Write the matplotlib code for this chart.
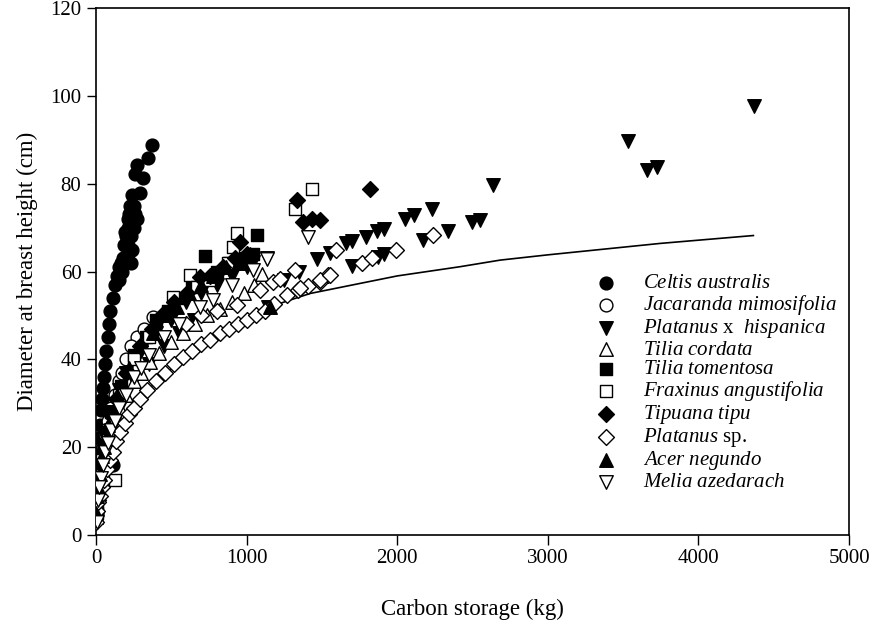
import numpy as np
import matplotlib
matplotlib.use("Agg")
import matplotlib.pyplot as plt

plt.rcParams['font.family'] = ['Liberation Serif', 'DejaVu Serif']
plt.rcParams['mathtext.fontset'] = 'custom'
plt.rcParams['mathtext.it'] = 'Liberation Serif:italic'
plt.rcParams['mathtext.rm'] = 'Liberation Serif'

# fitted curve (hidden part estimated along the lowest band)
curve_x = [60, 100, 200, 400, 700, 1000, 1200, 1421, 2000, 2417, 2683, 3000, 3745, 4365]
curve_y = [15.0, 19.5, 27.5, 35.0, 43.5, 49.5, 52.5, 55.0, 59.0, 61.1, 62.6, 63.8, 66.4, 68.2]

celtis_x = [1, 3, 6, 9, 13, 17, 22, 27, 33, 40, 47, 54, 60, 68, 77, 86, 96, 110, 125, 140,
            155, 166, 180, 200, 232, 185, 210, 195, 225, 212, 245, 272, 225, 255, 237, 259,
            270, 292, 314, 346, 370, 115, 150, 170, 190, 210, 240, 200, 235, 215, 250,
            230, 260, 240, 220]
celtis_y = [4, 7, 10, 13, 16, 19, 22, 25, 28.5, 31, 33.5, 36, 39, 42, 45, 48, 51, 54, 57, 59,
            61, 62, 63, 63, 62, 66, 66, 69, 69, 72, 72, 72, 75, 75, 77.4, 82.3,
            84.2, 77.8, 81.2, 85.8, 88.8, 16, 58, 60, 62, 64, 65, 68, 68, 70, 70,
            73, 73, 75, 73]

jacaranda_x = [5, 15, 30, 60, 100, 150, 200, 270, 378, 45, 80, 125, 175, 235, 320]
jacaranda_y = [5, 10, 16, 23, 29, 35, 40, 45, 49.7, 20, 26, 32, 37, 43, 47]

hispanica_x = [5, 15, 30, 60, 100, 150, 200, 300, 400, 500, 600, 700, 800, 900, 1000, 1044,
               1144, 1250, 1350, 1465, 1554, 1660, 1698, 1702, 1791, 1868, 1875, 1912, 1915,
               2052, 2112, 2173, 2229, 2340, 2495, 2550, 2636, 3533, 3659, 3725, 4369,
               10, 22, 45, 80, 125, 175, 250, 350, 450, 550, 650]
hispanica_y = [6, 11, 16, 22, 28, 33, 37, 42, 46, 49, 53, 55, 57, 59, 61, 62.2,
               52, 58, 60, 62.8, 64.3, 66.4, 66.9, 61.2, 67.9, 69.3, 63.4, 63.9, 69.8,
               71.9, 72.9, 67.2, 74.2, 69.3, 71.3, 71.7, 79.7, 89.7, 83.1, 83.8, 97.7,
               7, 11, 16, 21, 26, 30, 35, 39, 43, 46, 49]

cordata_x = [3, 8, 15, 25, 40, 60, 80, 100, 130, 160, 200, 250, 300, 360, 420, 500, 580,
             660, 740, 820, 900, 980, 1050, 1100]
cordata_y = [4, 7, 10, 13, 16, 19, 22, 24, 27, 29, 32, 35, 37, 39.5, 41.5, 44, 46,
             48, 50, 51.5, 53, 55, 57, 59.5]

tomentosa_x = [5, 20, 50, 100, 165, 250, 330, 400, 480, 560, 640, 724, 800, 880, 960, 1040, 1071]
tomentosa_y = [6, 12, 20, 28, 34, 41, 45, 49, 51, 54, 57, 63.5, 60, 62, 63, 64, 68.3]

fraxinus_x = [5, 15, 40, 80, 126, 150, 250, 350, 513, 624, 668, 750, 879, 912, 934, 1321, 1436]
fraxinus_y = [5, 10, 17, 24, 12.5, 32, 40, 45, 54.3, 59.2, 56.5, 58, 61.9, 65.6, 68.7, 74.2, 78.9]

tipuana_x = [10, 35, 75, 130, 200, 290, 370, 440, 520, 602, 690, 760, 840, 920, 956, 1000,
             1333, 1377, 1432, 1487, 1819]
tipuana_y = [8, 16, 24, 31, 37, 43, 47, 50, 53, 55, 58.8, 59, 61, 63, 66.8, 64,
             76.3, 71.3, 71.9, 71.7, 78.8]

platsp_x = [2, 6, 15, 25, 40, 55, 75, 95, 115, 135, 160, 190, 220, 250, 290, 340, 400, 460,
            520, 580, 640, 700, 760, 820, 880, 940, 1000, 1060, 1120, 1180, 1266, 1343,
            1410, 1487, 1543, 600, 700, 800, 934, 1089, 1177, 1222, 1321, 1355, 1487, 1554,
            1594, 1764, 1830, 1992, 2240]
platsp_y = [3, 5.5, 7.5, 9, 11, 12.5, 15, 17, 19, 21.5, 23.5, 25.5, 27.5, 29, 31, 33, 35, 37,
            39, 40.5, 42, 43.5, 44.5, 46, 47, 48, 49, 50, 51, 52.5, 54.6, 55.8,
            56.7, 57.7, 59.2, 48, 50, 51, 52.4, 55.8, 57.7, 58.4, 60.3, 56.2, 58.1, 59.2,
            65, 62, 63, 65, 68.3]

acer_x = [3, 15, 40, 80, 140, 220, 300, 380, 460, 540, 620, 700, 780, 860, 940, 1020, 1155,
          8, 25, 55, 110]
acer_y = [5, 11, 18, 25, 32, 38, 43, 46, 50, 52, 55, 57, 59, 61, 62, 64, 52,
          9, 14, 20, 28]

melia_x = [5, 15, 30, 60, 100, 150, 250, 350, 450, 550, 690, 779, 900, 1045, 1133, 1138, 1410,
           20, 45, 80, 125, 200, 300]
melia_y = [3, 8, 13, 19, 24, 29, 36, 41, 45, 48, 52, 53.5, 57, 60.4, 63, 62.8, 67.9,
           11, 16, 21, 26, 32, 38]

fig = plt.figure(figsize=(8.77, 6.29), dpi=100)
ax = fig.add_axes([0.1095, 0.1494, 0.8586, 0.8378])

ax.plot(curve_x, curve_y, color='black', lw=1.2, zorder=1)

series = [
    (celtis_x, celtis_y, 'o', 'black', r'$\mathit{Celtis\ australis}$', 85),
    (jacaranda_x, jacaranda_y, 'o', 'white', r'$\mathit{Jacaranda\ mimosifolia}$', 85),
    (hispanica_x, hispanica_y, 'v', 'black', r'$\mathit{Platanus}$ x  $\mathit{hispanica}$', 95),
    (cordata_x, cordata_y, '^', 'white', r'$\mathit{Tilia\ cordata}$', 95),
    (tomentosa_x, tomentosa_y, 's', 'black', r'$\mathit{Tilia\ tomentosa}$', 75),
    (fraxinus_x, fraxinus_y, 's', 'white', r'$\mathit{Fraxinus\ angustifolia}$', 75),
    (tipuana_x, tipuana_y, 'D', 'black', r'$\mathit{Tipuana\ tipu}$', 65),
    (platsp_x, platsp_y, 'D', 'white', r'$\mathit{Platanus}$ sp.', 65),
    (acer_x, acer_y, '^', 'black', r'$\mathit{Acer\ negundo}$', 95),
    (melia_x, melia_y, 'v', 'white', r'$\mathit{Melia\ azedarach}$', 95),
]

for i, (xs, ys, m, fc, lab, s) in enumerate(series):
    ax.scatter(xs, ys, marker=m, s=s, facecolor=fc, edgecolor='black',
               linewidths=1.0, label=lab, zorder=2 + i)

ax.set_xlim(0, 5000)
ax.set_ylim(0, 120)
ax.set_xticks(range(0, 5001, 1000))
ax.set_yticks(range(0, 121, 20))
ax.tick_params(direction='out', width=1, labelsize=15, top=False, right=False)
ax.tick_params(axis='x', length=7, pad=3)
ax.tick_params(axis='y', length=6.5, pad=4)
for sp in ax.spines.values():
    sp.set_linewidth(1.2)

ax.set_xlabel('Carbon storage (kg)', fontsize=16.5, labelpad=22)
ax.set_ylabel('Diameter at breast height (cm)', fontsize=16.5, labelpad=9)

ax.legend(loc='upper left', bbox_to_anchor=(0.663, 0.496), frameon=False, fontsize=15,
          labelspacing=0.0, handletextpad=1.3, borderpad=0, handlelength=1.0,
          borderaxespad=0)

fig.savefig('out.png', dpi=100)
